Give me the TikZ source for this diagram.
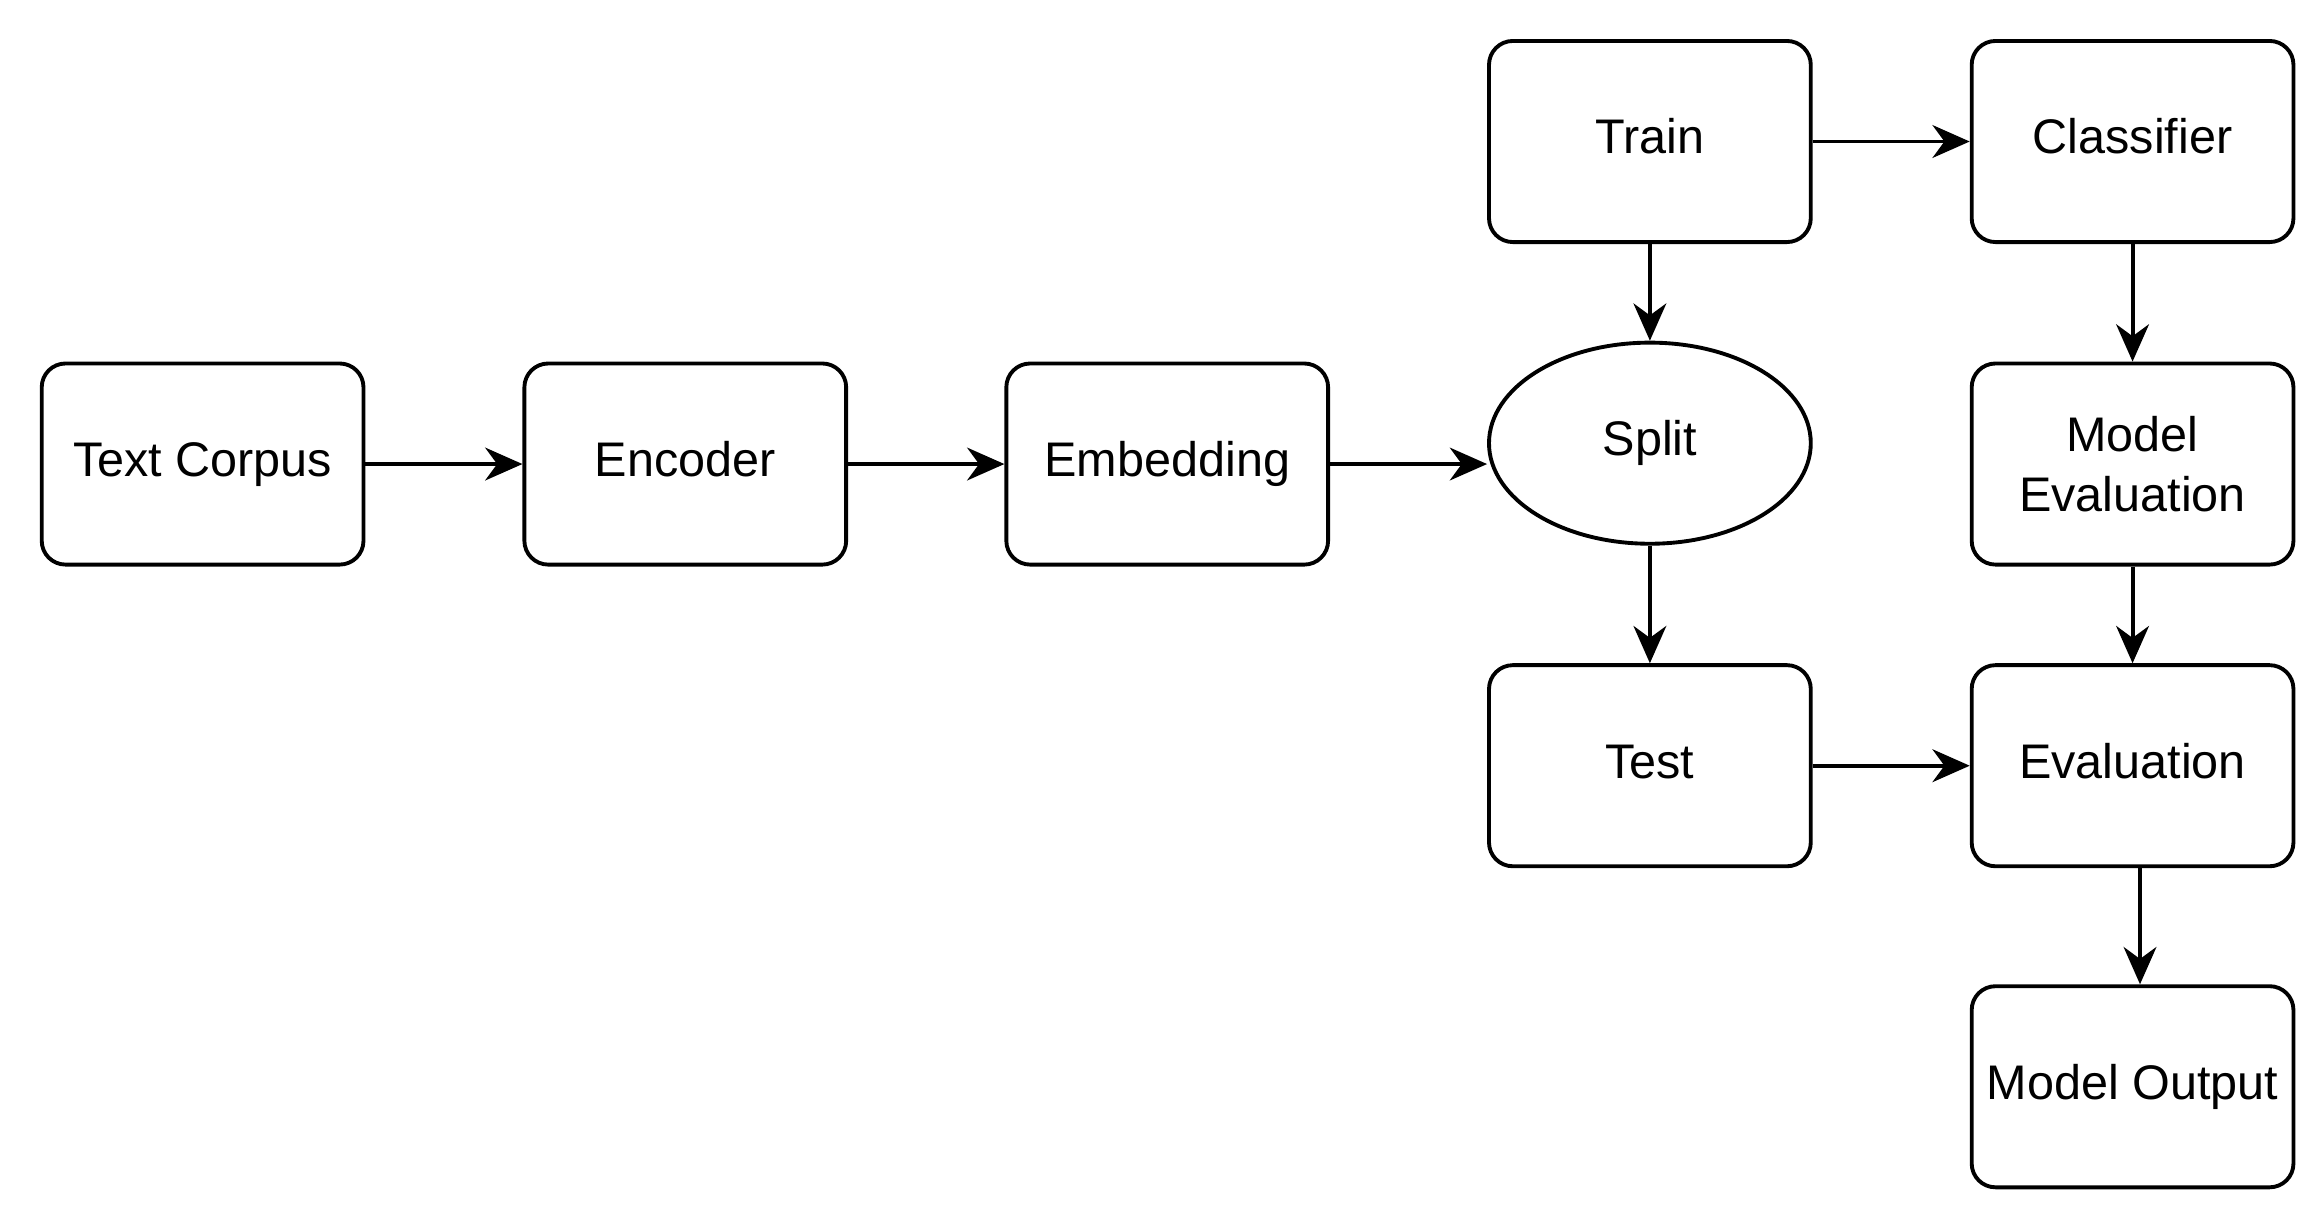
\documentclass[tikz,border=0pt]{standalone}
\usepackage{fontspec}
\setmainfont{Liberation Sans}
\usetikzlibrary{arrows.meta,shapes.geometric}
\def\boxw{108pt}
\def\boxh{67.5pt}
\tikzset{
  blk/.style={
    draw=black,line width=1.3pt,rounded corners=8pt,
    minimum width=\boxw,minimum height=\boxh,
    align=center,inner sep=2pt,
    text height=11.7pt,text depth=3.4pt,
    font=\fontsize{16.3}{20}\selectfont
},
  twoline/.style={text height=,text depth=},
  oval/.style={blk,ellipse,rounded corners=0pt},
  flow/.style={->,line width=1.3pt}
}
\begin{document}
\begin{tikzpicture}[x=0.5pt,y=-0.5pt,>={Stealth[length=12.5pt,width=11pt,inset=4pt]},line join=round]
\useasboundingbox (0,0) rectangle (1560,822);
% main row
\node[blk] (corpus) at (136,311.5) {Text Corpus};
\node[blk] (enc) at (460,311.5) {Encoder};
\node[blk] (emb) at (783.5,311.5) {Embedding};
\node[oval] (split) at (1107.5,297.5) {Split};
% train / test column
\node[blk] (train) at (1107.5,95) {Train};
\node[blk] (test) at (1107.5,514) {Test};
% right column
\node[blk] (clf) at (1431.5,95) {Classifier};
\node[blk,twoline] (modeval) at (1431.5,311.5) {Model\\Evaluation};
\node[blk] (eval) at (1431.5,514) {Evaluation};
\node[blk] (out) at (1431.5,729.5) {Model Output};
% connectors
\draw[flow] (corpus) -- (enc);
\draw[flow] (enc) -- (emb);
\draw[flow] (emb.east) -- (emb.east -| split.west);
\draw[flow] (train) -- (split);
\draw[flow] (split) -- (test);
\draw[flow] (train) -- (clf);
\draw[flow] (clf) -- (modeval);
\draw[flow] (modeval) -- (eval);
\draw[flow] (test) -- (eval);
\draw[flow] ([xshift=2.5pt]eval.south) -- ([xshift=2.5pt]out.north);
\end{tikzpicture}
\end{document}
